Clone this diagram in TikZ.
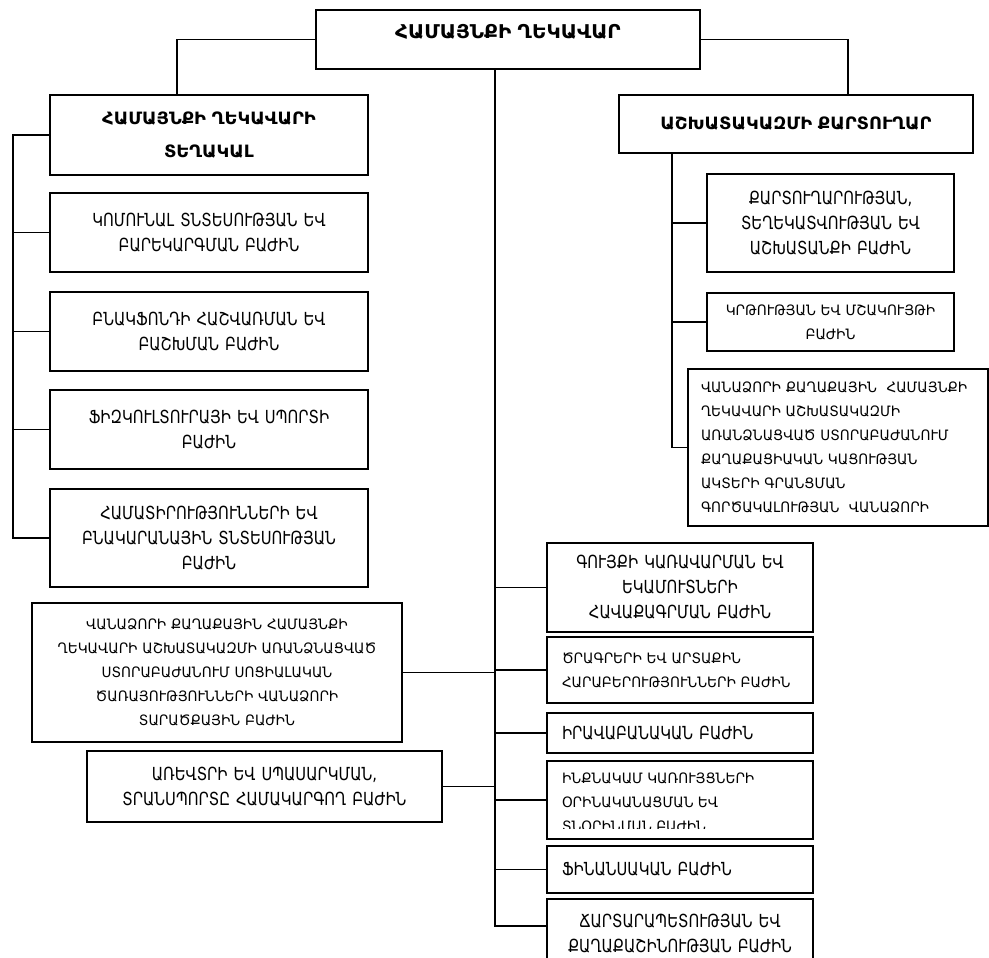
\documentclass[tikz,border=0pt]{standalone}
\usepackage{fontspec}
\setmainfont{DejaVu Sans}[FakeStretch=0.82]
\newfontfamily\headfont{DejaVu Sans}[FakeStretch=1.05]
\newfontfamily\smallfont{DejaVu Sans}[FakeStretch=0.95]
\begin{document}
\begin{tikzpicture}[
		x=1pt, y=-1pt,
		line width=1.3pt,
		D/.style = {rectangle, draw, anchor=north west,% boxes of the chart
			inner xsep=6pt, inner ysep=0pt, outer sep=0pt,
			align=center, font=\fontsize{18}{25}\selectfont},
		H/.style = {D, font=\headfont\bfseries\fontsize{17}{33}\selectfont},% heads
		L/.style = {D, align=left, inner xsep=15pt},
		S/.style = {font=\smallfont\fontsize{14.3}{24}\selectfont},% smaller text
		]
		\useasboundingbox (0,0) rectangle (989,958);
		% heads
		\node[H, font=\headfont\bfseries\fontsize{19}{30}\selectfont, text depth=16pt, text width=372pt, minimum height=59pt] (top) at (316,10) {ՀԱՄԱՅՆՔԻ ՂԵԿԱՎԱՐ};
		\node[H, text width=306pt, minimum height=80pt] (dep) at (50,95) {ՀԱՄԱՅՆՔԻ ՂԵԿԱՎԱՐԻ\\ՏԵՂԱԿԱԼ};
		\node[H, text width=342pt, minimum height=58pt] (sec) at (619,95) {ԱՇԽԱՏԱԿԱԶՄԻ ՔԱՐՏՈՒՂԱՐ};
		% left column
		\node[D, text width=306pt, minimum height=79pt] (kom) at (50,193) {ԿՈՄՈՒՆԱԼ ՏՆՏԵՍՈՒԹՅԱՆ ԵՎ\\ԲԱՐԵԿԱՐԳՄԱՆ ԲԱԺԻՆ};
		\node[D, text width=306pt, minimum height=79pt] (bnak) at (50,292) {ԲՆԱԿՖՈՆԴԻ ՀԱՇՎԱՌՄԱՆ ԵՎ\\ԲԱՇԽՄԱՆ ԲԱԺԻՆ};
		\node[D, text width=306pt, minimum height=79pt] (fizk) at (50,390) {ՖԻԶԿՈՒԼՏՈՒՐԱՅԻ ԵՎ ՍՊՈՐՏԻ\\ԲԱԺԻՆ};
		\node[D, text width=306pt, minimum height=98pt] (hamat) at (50,489) {ՀԱՄԱՏԻՐՈՒԹՅՈՒՆՆԵՐԻ ԵՎ\\ԲՆԱԿԱՐԱՆԱՅԻՆ ՏՆՏԵՍՈՒԹՅԱՆ\\ԲԱԺԻՆ};
		\node[D, S, text width=358pt, minimum height=139pt] (soc) at (32,603) {ՎԱՆԱՁՈՐԻ ՔԱՂԱՔԱՅԻՆ ՀԱՄԱՅՆՔԻ\\ՂԵԿԱՎԱՐԻ ԱՇԽԱՏԱԿԱԶՄԻ ԱՌԱՆՁՆԱՑՎԱԾ\\ՍՏՈՐԱԲԱԺԱՆՈՒՄ ՍՈՑԻԱԼԱԿԱՆ\\ԾԱՌԱՅՈՒԹՅՈՒՆՆԵՐԻ ՎԱՆԱՁՈՐԻ\\ՏԱՐԱԾՔԱՅԻՆ ԲԱԺԻՆ};
		\node[D, text width=343pt, minimum height=71pt] (trade) at (87,751) {ԱՌԵՎՏՐԻ ԵՎ ՍՊԱՍԱՐԿՄԱՆ,\\ՏՐԱՆՍՊՈՐՏԸ ՀԱՄԱԿԱՐԳՈՂ ԲԱԺԻՆ};
		% right column
		\node[D, text width=235pt, minimum height=98pt] (qart) at (707,174) {ՔԱՐՏՈՒՂԱՐՈՒԹՅԱՆ,\\ՏԵՂԵԿԱՏՎՈՒԹՅԱՆ ԵՎ\\ԱՇԽԱՏԱՆՔԻ ԲԱԺԻՆ};
		\node[D, S, text width=235pt, minimum height=58pt] (krt) at (707,293) {ԿՐԹՈՒԹՅԱՆ ԵՎ ՄՇԱԿՈՒՅԹԻ\\ԲԱԺԻՆ};
		\node[L, S, inner xsep=13pt, text width=274pt, minimum height=157pt] (regc) at (688,369) {ՎԱՆԱՁՈՐԻ ՔԱՂԱՔԱՅԻՆ \ ՀԱՄԱՅՆՔԻ\\ՂԵԿԱՎԱՐԻ ԱՇԽԱՏԱԿԱԶՄԻ\\ԱՌԱՆՁՆԱՑՎԱԾ ՍՏՈՐԱԲԱԺԱՆՈՒՄ\\ՔԱՂԱՔԱՑԻԱԿԱՆ ԿԱՑՈՒԹՅԱՆ\\ԱԿՏԵՐԻ ԳՐԱՆՑՄԱՆ\\ԳՈՐԾԱԿԱԼՈՒԹՅԱՆ \ ՎԱՆԱՁՈՐԻ};
		% centre column
		\node[D, text width=254pt, minimum height=89pt] (guyq) at (547,543) {ԳՈՒՅՔԻ ԿԱՌԱՎԱՐՄԱՆ ԵՎ\\ԵԿԱՄՈՒՏՆԵՐԻ\\ՀԱՎԱՔԱԳՐՄԱՆ ԲԱԺԻՆ};
		\node[L, S, text width=236pt, minimum height=66pt] (cragr) at (547,637) {ԾՐԱԳՐԵՐԻ ԵՎ ԱՐՏԱՔԻՆ\\ՀԱՐԱԲԵՐՈՒԹՅՈՒՆՆԵՐԻ ԲԱԺԻՆ};
		\node[L, text width=236pt, minimum height=40pt] (irav) at (547,713) {ԻՐԱՎԱԲԱՆԱԿԱՆ ԲԱԺԻՆ};
		\node[D, minimum width=266pt, minimum height=78pt, path picture={% last line cut off
			\clip (path picture bounding box.north west) rectangle ([yshift=11pt]path picture bounding box.south east);
			\node[S, draw=none, anchor=north west, align=left, inner sep=0pt, minimum width=0pt, minimum height=0pt]
				at ([xshift=15pt, yshift=-12pt]path picture bounding box.north west) {ԻՆՔՆԱԿԱՄ ԿԱՌՈՒՅՑՆԵՐԻ\\ՕՐԻՆԱԿԱՆԱՑՄԱՆ ԵՎ\\ՏՆՕՐԻՆՄԱՆ ԲԱԺԻՆ};
			}] (inqn) at (547,761) {};
		\node[L, text width=236pt, minimum height=47pt] (fin) at (547,846) {ՖԻՆԱՆՍԱԿԱՆ ԲԱԺԻՆ};
		\node[D, text width=254pt, minimum height=70pt] (arch) at (547,899) {ՃԱՐՏԱՐԱՊԵՏՈՒԹՅԱՆ ԵՎ\\ՔԱՂԱՔԱՇԻՆՈՒԹՅԱՆ ԲԱԺԻՆ};
		% buses
		\coordinate (lbus) at (13,0);
		\coordinate (rbus) at (672,153);
		\coordinate (cbus) at (495,926);
		\draw (top.west) -| ([xshift=-32pt]dep.north);
		\draw (top.east) -| ([xshift=52pt]sec.north);
		\draw (cbus |- top.south) -- (cbus) -- (cbus -| arch.west);
		\draw (dep.west) -- (dep.west -| lbus) -- (hamat.west -| lbus) -- (hamat.west);
		\draw (rbus) -- (rbus |- regc.west) -- (regc.west);
		\foreach \n in {kom,bnak,fizk}
		\draw (\n.west -| lbus) -- (\n.west);
		\foreach \n in {qart,krt}
		\draw (\n.west -| rbus) -- (\n.west);
		\foreach \n in {guyq,cragr,irav,inqn,fin}
		\draw (\n.west -| cbus) -- (\n.west);
		\foreach \n in {soc,trade}
		\draw (\n.east) -- (\n.east -| cbus);
	\end{tikzpicture}
\end{document}
